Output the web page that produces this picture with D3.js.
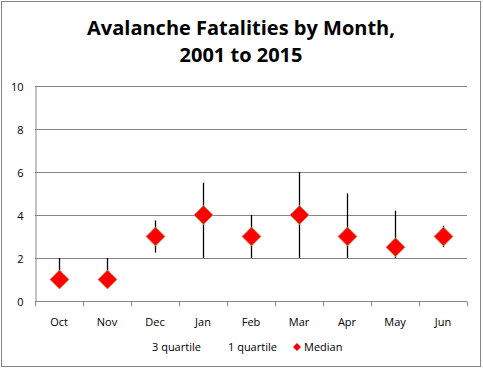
<!DOCTYPE html>
<html>
<head>
<script src="https://d3js.org/d3.v7.min.js"></script>
<style>
  body { margin: 0; background: #fff; }
  text { font-family: "Open Sans", "DejaVu Sans", sans-serif; }
</style>
</head>
<body>
<svg width="483" height="369"></svg>
<script>
// chart data
const months = ['Oct','Nov','Dec','Jan','Feb','Mar','Apr','May','Jun'];
const quartile3 = [2, 2, 3.75, 5.5, 4, 6, 5, 4.2, 3.5];
const quartile1 = [1, 1, 2.25, 2, 2, 2, 2, 2, 2.5];
const median = [1, 1, 3, 4, 3, 4, 3, 2.5, 3];
const yTicks = [0, 2, 4, 6, 8, 10];

const svg = d3.select('svg');

// outer border
svg.append('rect')
  .attr('x', 1.5).attr('y', 1.5)
  .attr('width', 479).attr('height', 365)
  .attr('fill', 'white').attr('stroke', '#868686');

const plotL = 35, plotR = 467, plotT = 86, plotB = 301;

const xs = d3.scaleBand().domain(months).range([plotL, plotR]);
const ys = d3.scaleLinear().domain([0, 10]).range([plotB, plotT]);

// title
svg.append('text')
  .attr('x', 241).attr('y', 35)
  .attr('text-anchor', 'middle')
  .style('font-size', '20px').style('font-weight', 'bold')
  .text('Avalanche Fatalities by Month,');
svg.append('text')
  .attr('x', 241).attr('y', 62)
  .attr('text-anchor', 'middle')
  .style('font-size', '20px').style('font-weight', 'bold')
  .text('2001 to 2015');

// gridlines
svg.append('g')
  .selectAll('line')
  .data(yTicks.filter(d => d > 0))
  .enter()
  .append('line')
    .attr('x1', plotL).attr('x2', plotR)
    .attr('y1', d => ys(d) + 0.5).attr('y2', d => ys(d) + 0.5)
    .attr('stroke', '#868686');

// y axis
const yAxis = svg.append('g')
  .attr('transform', `translate(${plotL + 0.5},0.5)`)
  .call(d3.axisLeft(ys).tickValues(yTicks).tickSize(0).tickPadding(12));
yAxis.select('.domain').attr('stroke', '#868686');
yAxis.selectAll('text').style('font-size', '11px').attr('fill', '#000');

// x axis with ticks at band edges
const xAxis = svg.append('g')
  .attr('transform', `translate(0,${plotB + 0.5})`);
xAxis.append('line')
  .attr('x1', plotL).attr('x2', plotR)
  .attr('stroke', '#868686');
const edges = months.map(m => xs(m)).concat([plotR]);
xAxis.selectAll('.tk')
  .data(edges)
  .enter()
  .append('line')
    .attr('x1', d => Math.round(d) + 0.5).attr('x2', d => Math.round(d) + 0.5)
    .attr('y1', 0).attr('y2', 5)
    .attr('stroke', '#868686');
xAxis.selectAll('.lbl')
  .data(months)
  .enter()
  .append('text')
    .attr('x', d => xs(d) + xs.bandwidth() / 2)
    .attr('y', 24)
    .attr('text-anchor', 'middle')
    .style('font-size', '11px')
    .text(d => d);

// quartile range lines
svg.append('g')
  .selectAll('line')
  .data(months)
  .enter()
  .append('line')
    .attr('x1', d => Math.round(xs(d) + xs.bandwidth() / 2) + 0.5)
    .attr('x2', d => Math.round(xs(d) + xs.bandwidth() / 2) + 0.5)
    .attr('y1', (d, i) => ys(quartile3[i]))
    .attr('y2', (d, i) => ys(quartile1[i]))
    .attr('stroke', '#000').attr('stroke-width', 1.3);

// median diamonds
const dsize = 9.5;
svg.append('g')
  .selectAll('path')
  .data(months)
  .enter()
  .append('path')
    .attr('transform', (d, i) => `translate(${xs(d) + xs.bandwidth() / 2 + 0.5},${ys(median[i])})`)
    .attr('d', `M0,${-dsize}L${dsize},0L0,${dsize}L${-dsize},0Z`)
    .attr('fill', '#ff0000')
    .attr('stroke', '#a8a060').attr('stroke-width', 0.8);

// legend
const leg = svg.append('g').style('font-size', '11px');
leg.append('text').attr('x', 152).attr('y', 351).text('3 quartile');
leg.append('text').attr('x', 228).attr('y', 351).text('1 quartile');
leg.append('path')
  .attr('transform', 'translate(297,347)')
  .attr('d', 'M0,-4L4,0L0,4L-4,0Z')
  .attr('fill', '#ff0000');
leg.append('text').attr('x', 304).attr('y', 351).text('Median');
</script>
</body>
</html>
